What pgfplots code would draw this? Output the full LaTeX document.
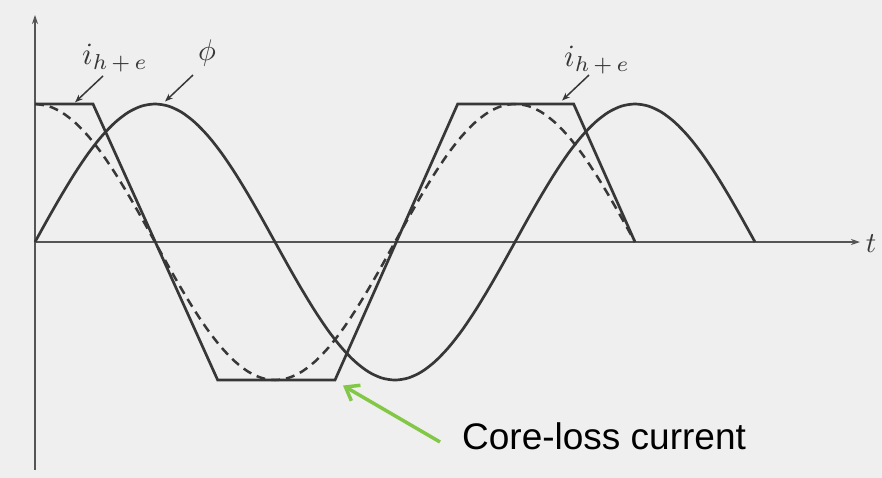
\documentclass[border=0pt]{standalone}
\usepackage{fontspec}
\usepackage{pgfplots}
\pgfplotsset{compat=1.18}
\usetikzlibrary{arrows.meta}
\newfontfamily\arial{Liberation Sans}

\definecolor{bgcol}{RGB}{239,239,239}
\definecolor{ink}{RGB}{55,55,55}
\definecolor{axcol}{RGB}{85,85,85}
\definecolor{note}{RGB}{130,200,70}

\begin{document}
\begin{tikzpicture}
\useasboundingbox (-35bp,-8bp) rectangle (847bp,470bp);
\fill[bgcol] (-35bp,-8bp) rectangle (847bp,470bp);
\begin{axis}[
    at={(0,0)}, anchor=south west,
    scale only axis,
    width=825bp, height=455bp,
    xmin=0, xmax=618.75,
    ymin=-1.652, ymax=1.645,
    enlargelimits=false,
    axis lines=middle,
    axis line style={color=axcol, line width=1.3bp, -{Stealth[length=9bp,width=6bp]}},
    xtick=\empty, ytick=\empty,
    clip=false,
]

% flux phi
\addplot[ink, line width=2.7bp, smooth] coordinates {
(0,0) (10,0.174) (20,0.342) (30,0.5) (40,0.643) (50,0.766) (60,0.866) (70,0.940) (80,0.985)
(90,1) (100,0.985) (110,0.940) (120,0.866) (130,0.766) (140,0.643) (150,0.5) (160,0.342) (170,0.174)
(180,0) (190,-0.174) (200,-0.342) (210,-0.5) (220,-0.643) (230,-0.766) (240,-0.866) (250,-0.940) (260,-0.985)
(270,-1) (280,-0.985) (290,-0.940) (300,-0.866) (310,-0.766) (320,-0.643) (330,-0.5) (340,-0.342) (350,-0.174)
(360,0) (370,0.174) (380,0.342) (390,0.5) (400,0.643) (410,0.766) (420,0.866) (430,0.940) (440,0.985)
(450,1) (460,0.985) (470,0.940) (480,0.866) (490,0.766) (500,0.643) (510,0.5) (520,0.342) (530,0.174)
(540,0)
};

% core-loss current (dashed)
\addplot[ink, line width=2.5bp, smooth, dash pattern=on 9bp off 6bp] coordinates {
(0,1) (10,0.985) (20,0.940) (30,0.866) (40,0.766) (50,0.643) (60,0.5) (70,0.342) (80,0.174)
(90,0) (100,-0.174) (110,-0.342) (120,-0.5) (130,-0.643) (140,-0.766) (150,-0.866) (160,-0.940) (170,-0.985)
(180,-1) (190,-0.985) (200,-0.940) (210,-0.866) (220,-0.766) (230,-0.643) (240,-0.5) (250,-0.342) (260,-0.174)
(270,0) (280,0.174) (290,0.342) (300,0.5) (310,0.643) (320,0.766) (330,0.866) (340,0.940) (350,0.985)
(360,1) (370,0.985) (380,0.940) (390,0.866) (400,0.766) (410,0.643) (420,0.5) (430,0.342) (440,0.174)
(450,0)
};

% i_{h+e}
\addplot[ink, line width=2.7bp, line join=miter] coordinates {
(0,1) (43.5,1) (137,-1) (225,-1) (317,1) (404,1) (450,0)
};

% labels and pointers
\node[font=\fontsize{10}{12}\selectfont, scale=3.1, ink] at (axis cs:60,1.333) {$i_{h\,+\,e}$};
\node[font=\fontsize{10}{12}\selectfont, scale=3.1, ink] at (axis cs:421.5,1.319) {$i_{h\,+\,e}$};
\node[font=\fontsize{10}{12}\selectfont, scale=3.0, ink] at (axis cs:129,1.37) {$\phi$};
\node[font=\fontsize{10}{12}\selectfont, scale=2.9, ink] at (axis cs:627,-0.01) {$t$};

\draw[ink, line width=1.5bp, -{Stealth[length=8bp,width=6bp]}] (axis cs:51,1.203) -- (axis cs:30,1.012);
\draw[ink, line width=1.5bp, -{Stealth[length=8bp,width=6bp]}] (axis cs:118.5,1.21) -- (axis cs:97.5,1.018);
\draw[ink, line width=1.5bp, -{Stealth[length=8bp,width=6bp]}] (axis cs:415.5,1.21) -- (axis cs:395.25,1.025);

\draw[note, line width=3.5bp, -{Straight Barb[length=12bp,width=18bp]}] (axis cs:303.75,-1.449) -- (axis cs:231,-1.04);
\node[anchor=base west, inner sep=0pt, font=\arial\fontsize{37bp}{40bp}\selectfont] at (axis cs:320.25,-1.507) {Core-loss current};

\end{axis}
\end{tikzpicture}
\end{document}
